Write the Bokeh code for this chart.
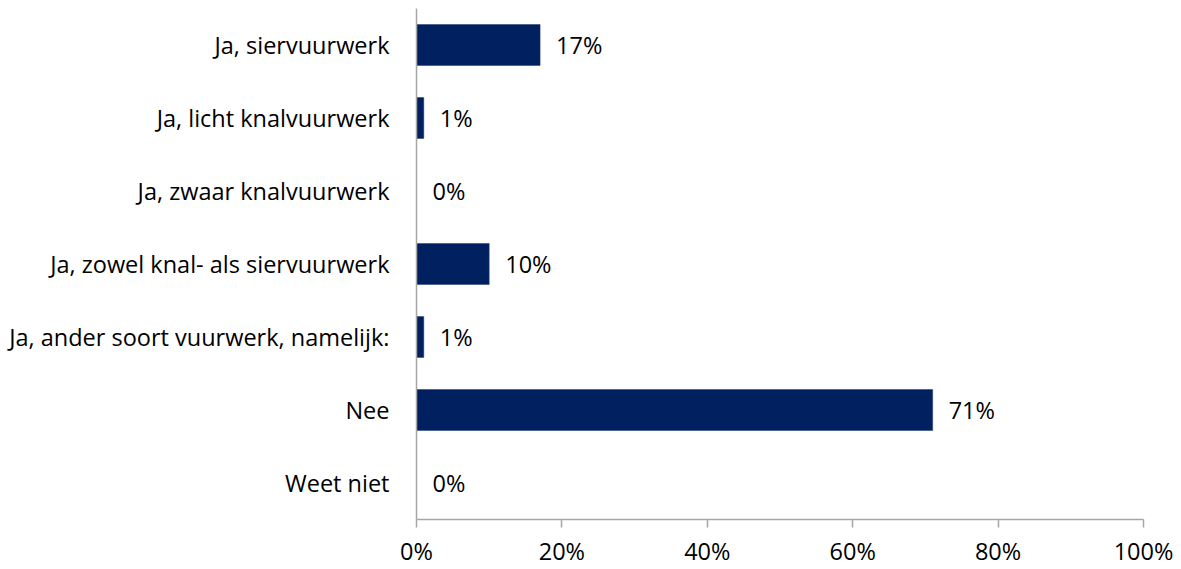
from bokeh.plotting import figure
from bokeh.models import ColumnDataSource, FactorRange, NumeralTickFormatter, FixedTicker
from bokeh.embed import file_html
from bokeh.resources import INLINE
from bokeh.core.properties import value

categories = [
    "Ja, siervuurwerk",
    "Ja, licht knalvuurwerk",
    "Ja, zwaar knalvuurwerk",
    "Ja, zowel knal- als siervuurwerk",
    "Ja, ander soort vuurwerk, namelijk:",
    "Nee",
    "Weet niet",
]
values = [0.17, 0.01, 0.00, 0.10, 0.01, 0.71, 0.00]
value_labels = ["17%", "1%", "0%", "10%", "1%", "71%", "0%"]
x_ticks = [0, 0.2, 0.4, 0.6, 0.8, 1.0]

FONT = "Open Sans"
FS = "23.5px"
src = ColumnDataSource(dict(cat=categories, val=values, lab=value_labels))

p = figure(
    width=1181, height=569,
    y_range=FactorRange(*list(reversed(categories))),
    x_range=(0, 1),
    output_backend="svg", toolbar_location=None,
    min_border_left=416, min_border_right=38, min_border_top=8, min_border_bottom=47,
)
p.hbar(y="cat", right="val", left=0, height=0.56, source=src,
       fill_color="#002060", line_color="#1F3A70", line_width=0.5)
p.text(x="val", y="cat", text="lab", source=src, x_offset=16,
       text_baseline="middle", text_align="left",
       text_font=value(FONT), text_font_size=FS, text_color="#000000")

p.outline_line_color = None
p.xgrid.grid_line_color = None
p.ygrid.grid_line_color = None

p.xaxis.ticker = FixedTicker(ticks=x_ticks)
p.xaxis.formatter = NumeralTickFormatter(format="0%")
p.xaxis.minor_tick_line_color = None
p.xaxis.major_tick_in = 0
p.xaxis.major_tick_out = 8
p.xaxis.axis_line_color = "#A6A6A6"
p.xaxis.major_tick_line_color = "#A6A6A6"
p.xaxis.axis_line_width = 1.5
p.xaxis.major_tick_line_width = 1.5
p.xaxis.major_label_text_font = FONT
p.xaxis.major_label_text_font_size = FS
p.xaxis.major_label_text_color = "#000000"
p.xaxis.major_label_standoff = 7

p.yaxis.major_tick_line_color = None
p.yaxis.minor_tick_line_color = None
p.yaxis.axis_line_color = "#A6A6A6"
p.yaxis.axis_line_width = 1.5
p.yaxis.major_label_text_font = FONT
p.yaxis.major_label_text_font_size = FS
p.yaxis.major_label_text_color = "#000000"
p.yaxis.major_label_standoff = 21

open("out.html", "w").write(file_html(p, INLINE))
